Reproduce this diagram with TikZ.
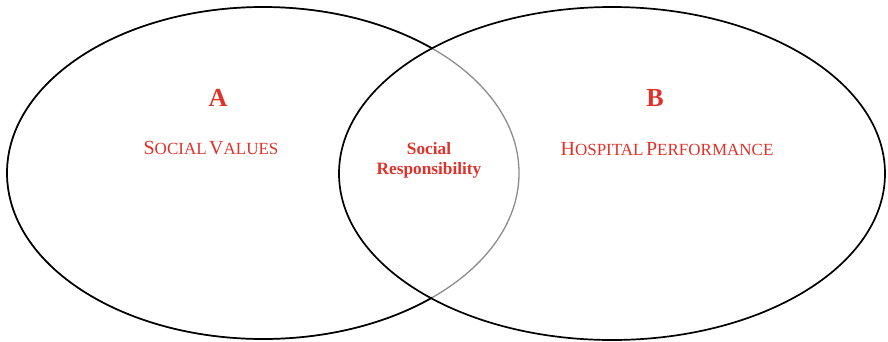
\documentclass[tikz,border=0pt]{standalone}
\usepackage{fontspec}
\setmainfont{Liberation Serif}
\definecolor{lblred}{RGB}{222,50,42}
\definecolor{arcgray}{RGB}{140,140,140}
\newcommand{\fsc}[2]{{\fontsize{20}{22}\selectfont #1}{\fontsize{17}{18}\selectfont #2}}
\tikzset{
  circ/.style={line width=1.7pt},
  lbl/.style={text=lblred, inner sep=0pt, align=center},
  biglbl/.style={lbl, font=\fontsize{26}{28}\selectfont\bfseries},
  midlbl/.style={lbl, font=\fontsize{17.3}{20}\selectfont\bfseries}
}
\begin{document}
\begin{tikzpicture}[x=1pt,y=-1pt]
\useasboundingbox (0,0) rectangle (888,341);
\coordinate (cl) at (263,173);
\coordinate (cr) at (612,173.5);
% left ellipse: gray arc inside right ellipse, black elsewhere
\draw[circ, draw=arcgray, line width=1.3pt] (cl) ellipse [x radius=256, y radius=166];
\begin{scope}
  \clip (0,0) rectangle (432,341);
  \draw[circ] (cl) ellipse [x radius=256, y radius=166];
\end{scope}
\draw[circ] (cr) ellipse [x radius=273, y radius=166.5];
\node[biglbl] (a) at (218,98) {A};
\node[biglbl] (b) at (655,98) {B};
\node[lbl, anchor=base] (sv) at (211,154) {\fsc{S}{OCIAL} \fsc{V}{ALUES}};
\node[lbl, anchor=base] (hp) at (667,155) {\fsc{H}{OSPITAL} \fsc{P}{ERFORMANCE}};
\node[midlbl] (sr) at (429,160) {Social\\Responsibility};
\end{tikzpicture}
\end{document}
